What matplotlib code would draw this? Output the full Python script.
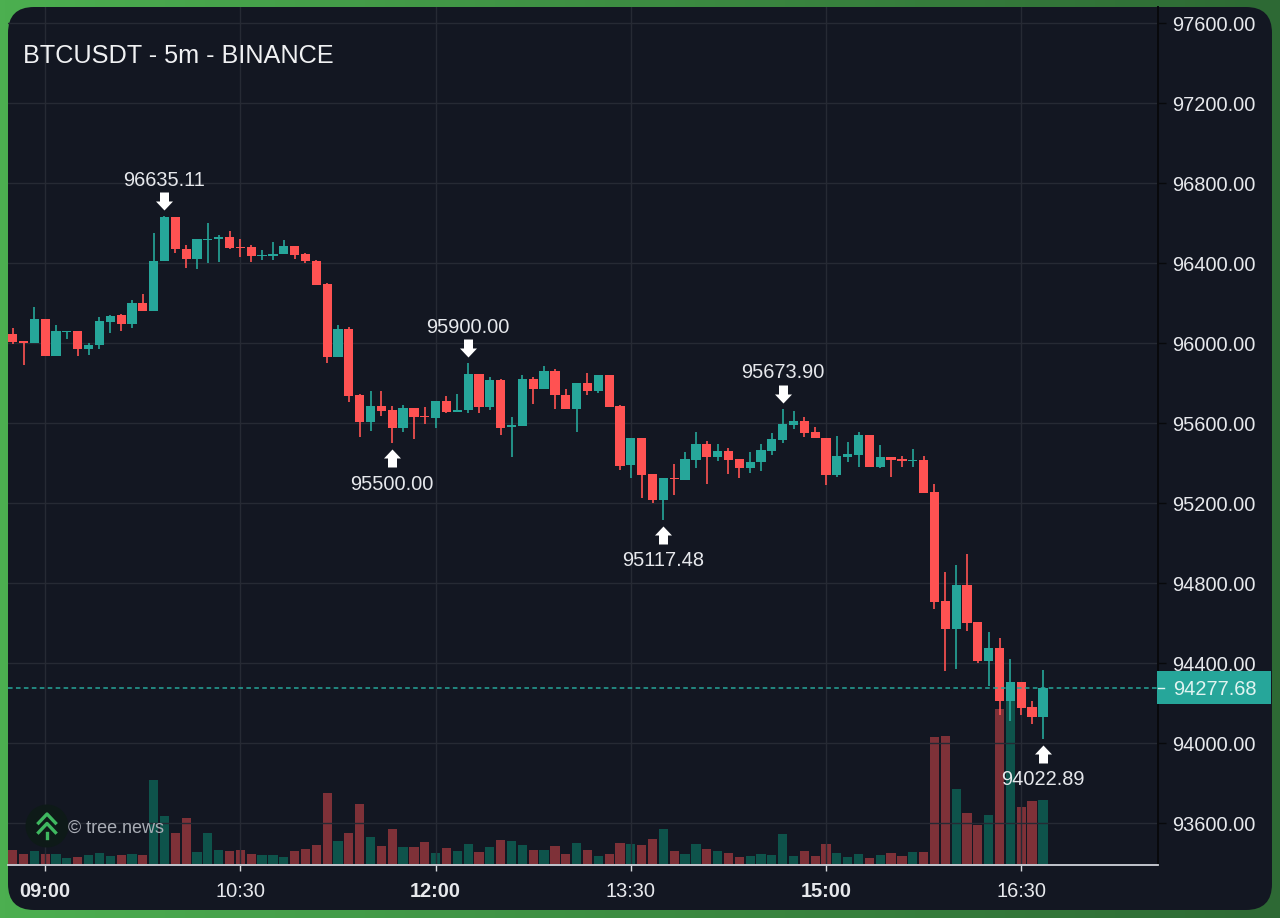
import numpy as np
import matplotlib
matplotlib.use('Agg')
import matplotlib.pyplot as plt
from matplotlib.lines import Line2D
from matplotlib.patches import Circle, FancyBboxPatch, Rectangle
from matplotlib.path import Path
from matplotlib.transforms import IdentityTransform, offset_copy

plt.rcParams['font.family'] = ['Liberation Sans', 'DejaVu Sans']

# bar number, 0 is the 09:00 candle
bars = np.arange(-3, 93)

opens = [96048, 96010, 96003, 96120, 95935, 96057, 96063, 95970, 95990, 96107,
         96140, 96098, 96200, 96160, 96412, 96630, 96473, 96420, 96518, 96522,
         96530, 96480, 96482, 96438, 96438, 96445, 96485, 96445, 96413, 96297,
         95930, 96070, 95740, 95605, 95687, 95668, 95577, 95677, 95637, 95628,
         95713, 95658, 95665, 95848, 95680, 95817, 95580, 95587, 95820, 95773,
         95860, 95743, 95673, 95803, 95760, 95840, 95687, 95390, 95524, 95344,
         95217, 95327, 95315, 95417, 95494, 95430, 95462, 95422, 95375, 95405,
         95460, 95515, 95592, 95610, 95555, 95529, 95344, 95434, 95444, 95542,
         95384, 95430, 95419, 95414, 95417, 95257, 94712, 94572, 94792, 94605,
         94414, 94475, 94214, 94305, 94182, 94134]
closes = [96005, 96002, 96120, 95935, 96060, 96063, 95970, 95992, 96110, 96138,
          96098, 96200, 96160, 96413, 96630, 96470, 96420, 96522, 96523, 96532,
          96477, 96475, 96437, 96443, 96448, 96485, 96440, 96410, 96292, 95930,
          96070, 95737, 95605, 95685, 95662, 95578, 95677, 95632, 95630, 95713,
          95657, 95668, 95848, 95682, 95817, 95578, 95590, 95820, 95773, 95860,
          95740, 95673, 95802, 95760, 95840, 95682, 95387, 95527, 95340, 95217,
          95325, 95320, 95420, 95494, 95430, 95460, 95417, 95377, 95407, 95465,
          95520, 95597, 95610, 95554, 95525, 95344, 95437, 95447, 95542, 95384,
          95430, 95415, 95412, 95419, 95254, 94707, 94572, 94792, 94604, 94414,
          94475, 94214, 94305, 94179, 94134, 94277.68]
highs = [96078, 96010, 96183, 96123, 96090, 96063, 96063, 96003, 96132, 96143,
         96147, 96217, 96247, 96553, 96635.11, 96630, 96490, 96522, 96603, 96543,
         96563, 96522, 96493, 96468, 96508, 96517, 96485, 96450, 96418, 96303,
         96093, 96083, 95747, 95763, 95763, 95687, 95690, 95677, 95682, 95713,
         95737, 95748, 95900, 95848, 95830, 95823, 95632, 95843, 95830, 95888,
         95873, 95773, 95802, 95850, 95840, 95840, 95693, 95527, 95524, 95344,
         95325, 95397, 95455, 95557, 95510, 95497, 95477, 95422, 95455, 95497,
         95550, 95673.90, 95664, 95630, 95584, 95529, 95537, 95507, 95555, 95542,
         95494, 95430, 95437, 95470, 95435, 95297, 94857, 94892, 94945, 94605,
         94555, 94525, 94420, 94305, 94214, 94367]
lows = [95998, 95890, 96003, 95935, 95935, 96020, 95937, 95942, 95973, 96053,
        96060, 96077, 96160, 96160, 96412, 96452, 96378, 96373, 96400, 96405,
        96473, 96432, 96407, 96418, 96418, 96445, 96423, 96403, 96292, 95900,
        95930, 95708, 95530, 95560, 95637, 95500, 95557, 95523, 95595, 95577,
        95650, 95658, 95652, 95650, 95668, 95543, 95433, 95587, 95695, 95773,
        95673, 95673, 95557, 95740, 95750, 95682, 95367, 95327, 95227, 95200,
        95117.48, 95244, 95315, 95377, 95297, 95414, 95347, 95325, 95350, 95360,
        95444, 95504, 95574, 95530, 95525, 95294, 95330, 95407, 95384, 95384,
        95375, 95334, 95384, 95380, 95254, 94670, 94364, 94374, 94564, 94400,
        94287, 94142, 94112, 94142, 94097, 94022.89]
volumes = [140, 97, 130, 97, 97, 57, 67, 87, 107, 77,
           87, 100, 87, 837, 477, 303, 457, 120, 307, 140,
           123, 140, 97, 87, 87, 67, 123, 150, 187, 710,
           223, 303, 597, 267, 177, 347, 170, 170, 213, 103,
           157, 130, 197, 117, 170, 240, 230, 187, 140, 137,
           180, 97, 203, 140, 77, 97, 203, 197, 187, 247,
           347, 123, 97, 197, 147, 130, 103, 67, 77, 97,
           87, 293, 77, 123, 77, 193, 103, 70, 97, 57,
           87, 103, 77, 113, 113, 1270, 1280, 743, 510, 387,
           483, 1547, 1680, 563, 630, 637]

price_ticks = [93600, 94000, 94400, 94800, 95200, 95600, 96000, 96400, 96800, 97200, 97600]
time_ticks = [0, 18, 36, 54, 72, 90]
time_labels = ['09:00', '10:30', '12:00', '13:30', '15:00', '16:30']
bold_labels = ['09:00', '12:00', '15:00']

# (bar, price) of the marked swing points
high_marks = [(11, 96635.11), (39, 95900.00), (68, 95673.90)]
low_marks = [(32, 95500.00), (57, 95117.48), (92, 94022.89)]
last_price = 94277.68

UP = '#26a69a'
DOWN = '#ff5252'
VOL_UP = '#0e534b'
VOL_DOWN = '#7e3138'
TEXT = '#e6e8ec'
GRID = '#262a34'
PANEL = '#131722'
W, H = 1280, 918


def px(x, y):
    return x / W, 1 - y / H


fig = plt.figure(figsize=(W / 100, H / 100), dpi=100, facecolor='#4caf50')

# green frame, brighter on the left
frame = fig.add_axes([0, 0, 1, 1], zorder=-2)
frame.axis('off')
shade = np.linspace(0, 1, 256).reshape(1, -1, 1)
frame.imshow(np.array([76, 175, 80]) / 255 * (1 - shade) + np.array([45, 105, 52]) / 255 * shade, aspect='auto')

panel = FancyBboxPatch((8 + 26, H - 910 + 26), 1264 - 52, 903 - 52, boxstyle='round,pad=26,rounding_size=26',
                       facecolor=PANEL, edgecolor='none', zorder=-1)
panel.set_transform(IdentityTransform())
fig.add_artist(panel)

rect = [8 / W, (H - 865) / H, 1150 / W, 858 / H]
ax_vol = fig.add_axes(rect, zorder=1)
ax = fig.add_axes(rect, zorder=2, sharex=ax_vol)
ax_vol.patch.set_visible(False)
ax.patch.set_visible(False)
ax_vol.axis('off')

# volume under the candles
colors = [UP if c >= o else DOWN for o, c in zip(opens, closes)]
vol_colors = [VOL_UP if c >= o else VOL_DOWN for o, c in zip(opens, closes)]
ax_vol.bar(bars, volumes, width=0.85, color=vol_colors, linewidth=0)
ax_vol.set_ylim(-13, 8567)

# candles
bottoms = np.minimum(opens, closes)
heights = np.abs(np.array(closes) - np.array(opens))
ax.vlines(bars, lows, highs, colors=colors, linewidth=1.2, zorder=3)
ax.bar(bars, heights, bottom=bottoms, width=0.85, color=colors, linewidth=0, zorder=4)

ax.set_xlim(-3.43, 102.61)
ax.set_ylim(93391.5, 97681.5)
ax.set_yticks(price_ticks)
ax.set_yticklabels(['%.2f' % p for p in price_ticks])
ax.set_xticks(time_ticks)
ax.set_xticklabels(time_labels)
for label in ax.get_xticklabels():
    if label.get_text() in bold_labels:
        label.set_fontweight('bold')
ax.yaxis.tick_right()
ax.grid(True, color=GRID, linewidth=1.0, zorder=0)
ax.set_axisbelow(True)
ax.tick_params(axis='y', length=6, width=1, color='#08090c', labelcolor=TEXT, labelsize=14.4, pad=4.5)
ax.tick_params(axis='x', length=4, width=1, color='#d8dade', labelcolor=TEXT, labelsize=14.4, pad=8)
for side in ['top', 'left']:
    ax.spines[side].set_visible(False)
ax.spines['right'].set_color('#08090c')
ax.spines['right'].set_linewidth(1.4)
ax.spines['bottom'].set_color('#d0d3da')
ax.spines['bottom'].set_linewidth(1.3)

# current price line and tag
ax.axhline(last_price, color=UP, linewidth=1.1, dashes=(3, 2.2), zorder=5)
ybox = ax.get_yaxis_transform()
ax.add_patch(Rectangle((1149 / 1150, last_price - 82), 114 / 1150, 164, transform=ybox,
                       facecolor=UP, edgecolor='none', clip_on=False, zorder=10))
ax.text(1165 / 1150, last_price, '%.2f' % last_price, transform=ybox, color='#e0f4f1', fontsize=14.4,
        va='center_baseline', ha='left', clip_on=False, zorder=11)
ax.plot([1150 / 1150, 1156 / 1150], [last_price, last_price], transform=ybox, color='#e0f4f1',
        linewidth=1.0, clip_on=False, zorder=11)

# swing high / low arrows with their price
arrow_up = Path([(-4.5, -9), (4.5, -9), (4.5, 0), (8.5, 0), (0, 9), (-8.5, 0), (-4.5, 0), (-4.5, -9)])
arrow_down = Path([(-4.5, 9), (4.5, 9), (4.5, 0), (8.5, 0), (0, -9), (-8.5, 0), (-4.5, 0), (-4.5, 9)])
above = offset_copy(ax.transData, fig=fig, y=15, units='dots')
below = offset_copy(ax.transData, fig=fig, y=-15, units='dots')

for bar, price in high_marks:
    ax.plot([bar], [price], marker=arrow_down, markersize=12.96, color='white', markeredgewidth=0,
            transform=above, zorder=6)
    ax.annotate('%.2f' % price, xy=(bar, price), xytext=(0, 36), textcoords='offset pixels', color=TEXT,
                fontsize=14.4, ha='center', va='center', zorder=6)
for bar, price in low_marks:
    ax.plot([bar], [price], marker=arrow_up, markersize=12.96, color='white', markeredgewidth=0,
            transform=below, zorder=6)
    ax.annotate('%.2f' % price, xy=(bar, price), xytext=(0, -41), textcoords='offset pixels', color=TEXT,
                fontsize=14.4, ha='center', va='center', zorder=6)

# title
fig.text(*px(23, 56), 'BTCUSDT - 5m - BINANCE', color='#f0f1f3', fontsize=18.2, va='center', ha='left')

# tree.news watermark
circle = Circle((47, H - 826), 21.5, facecolor='#0e1a18', edgecolor='none', zorder=3)
circle.set_transform(IdentityTransform())
fig.add_artist(circle)
logo = '#3fb860'
for top in [814, 823.5]:
    xs = [38.5 / W, 47 / W, 55.5 / W]
    ys = [1 - (top + 9) / H, 1 - top / H, 1 - (top + 9) / H]
    fig.add_artist(Line2D(xs, ys, color=logo, linewidth=2.4, transform=fig.transFigure, zorder=4))
fig.add_artist(Line2D([47 / W, 47 / W], [1 - 833 / H, 1 - 838 / H], color=logo, linewidth=2.4,
                      transform=fig.transFigure, zorder=4))
fig.text(*px(68, 828), '\u00a9 tree.news', color='#a9adb5', fontsize=13, va='center', ha='left', zorder=5)

fig.savefig('out.png', dpi=100, facecolor=fig.get_facecolor())
